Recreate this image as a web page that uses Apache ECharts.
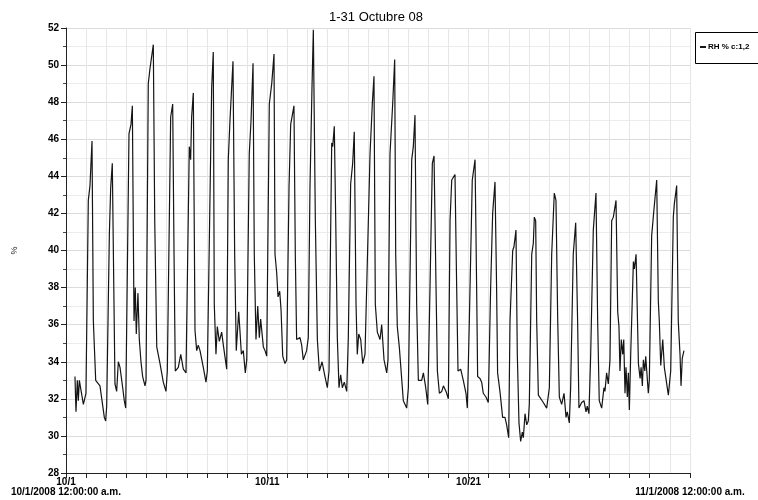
<!DOCTYPE html>
<html>
<head>
<meta charset="utf-8">
<script src="https://cdn.jsdelivr.net/npm/echarts@6/dist/echarts.min.js"></script>
<style>
  html, body { margin: 0; padding: 0; background: #fff; }
  #chart { width: 758px; height: 500px; }
</style>
</head>
<body>
<div id="chart"></div>
<script>
// Relative humidity logger readings, October 2008.
// hours: time since 10/1/2008 00:00; rh: reading in %.
const hours = [
  10.7, 11.9, 13.5, 14.7, 15.9, 17.9, 20.7, 22.3, 23.8, 26.6,
  28.6, 31.0, 32.6, 35.4, 40.5, 42.5, 45.7, 47.3, 48.5, 51.7,
  53.3, 55.2, 58.4, 60.4, 62.4, 64.4, 67.6, 69.5, 71.2, 75.1,
  77.5, 79.1, 81.1, 82.6, 83.8, 85.8, 87.4, 89.4, 91.4, 94.2,
  95.4, 98.1, 100.1, 104.1, 105.8, 108.2, 112.1, 116.0, 119.2, 120.8,
  124.8, 127.2, 128.8, 130.3, 133.9, 136.8, 139.9, 143.1, 147.0, 148.6,
  149.8, 151.8, 153.8, 155.8, 157.7, 159.8, 163.7, 166.9, 168.5, 173.7,
  175.6, 176.8, 178.8, 180.4, 182.8, 185.6, 187.6, 191.6, 193.5, 195.5,
  199.1, 201.1, 203.0, 205.9, 207.5, 209.1, 211.4, 213.8, 215.5, 218.5,
  220.6, 223.0, 224.5, 226.5, 228.6, 230.5, 232.1, 235.3, 237.3, 239.3,
  242.4, 245.3, 248.0, 249.2, 251.2, 252.8, 254.8, 256.4, 258.4, 261.1,
  263.1, 265.9, 267.9, 271.8, 273.4, 275.0, 279.0, 281.0, 282.9, 286.9,
  288.9, 290.9, 293.3, 294.9, 297.3, 299.7, 302.1, 305.3, 308.8, 311.6,
  313.6, 316.8, 318.0, 319.9, 321.6, 323.5, 325.5, 327.5, 329.5, 331.8,
  334.7, 336.6, 339.4, 341.8, 343.7, 345.8, 347.3, 349.0, 351.4, 353.8,
  356.5, 358.5, 362.5, 365.2, 367.2, 368.8, 371.2, 374.4, 376.4, 379.2,
  382.4, 383.9, 386.3, 389.5, 391.9, 393.1, 395.0, 397.4, 399.4, 402.2,
  406.2, 408.2, 412.2, 414.1, 416.1, 418.1, 420.1, 424.1, 426.1, 428.9,
  431.3, 434.0, 436.8, 438.8, 441.2, 442.8, 445.2, 448.0, 450.0, 453.1,
  455.9, 457.9, 459.9, 463.8, 465.8, 467.4, 470.6, 473.7, 476.9, 478.5,
  480.9, 484.4, 487.7, 489.6, 490.8, 493.6, 495.6, 497.5, 500.7, 503.5,
  506.3, 508.7, 511.5, 513.4, 514.6, 517.4, 520.6, 523.4, 525.4, 527.8,
  529.4, 532.6, 534.1, 536.5, 538.1, 540.1, 542.1, 544.1, 545.3, 547.3,
  549.3, 551.2, 552.4, 555.3, 557.2, 558.4, 560.0, 561.2, 563.2, 565.2,
  569.1, 573.1, 576.3, 579.1, 582.2, 584.2, 586.3, 588.2, 591.0, 593.8,
  596.2, 597.7, 600.1, 601.7, 604.8, 607.7, 610.0, 611.6, 614.8, 617.6,
  620.0, 621.5, 623.5, 625.6, 628.7, 631.9, 633.9, 635.8, 638.7, 641.4,
  642.6, 644.6, 646.6, 648.6, 650.6, 652.6, 655.8, 657.8, 659.3, 660.5,
  662.1, 663.8, 665.0, 666.5, 667.7, 669.3, 670.5, 671.7, 673.3, 676.5,
  677.7, 679.7, 682.5, 684.5, 685.7, 687.2, 688.4, 690.1, 691.2, 694.3,
  695.5, 698.3, 701.4, 704.3, 706.2, 707.4, 709.1, 711.5, 713.4, 715.0,
  718.2, 720.2, 721.0, 724.1, 725.3, 728.1, 730.0, 732.1, 733.3, 734.8,
  736.8
];
const rh = [
  33.2, 31.3, 33.0, 31.9, 33.0, 33.0, 31.7, 31.6, 32.3, 42.7,
  43.5, 45.9, 36.2, 33.0, 32.7, 32.6, 31.0, 30.8, 31.6, 40.9,
  43.4, 44.7, 32.8, 32.4, 34.0, 33.7, 32.6, 31.9, 31.5, 46.3,
  46.8, 47.8, 36.2, 38.0, 35.5, 37.7, 35.2, 34.0, 33.2, 32.7,
  33.0, 49.0, 49.8, 51.1, 41.6, 34.8, 33.9, 32.9, 32.4, 33.5,
  47.2, 47.9, 39.8, 33.5, 33.7, 34.4, 33.6, 33.4, 45.6, 44.9,
  47.2, 48.5, 35.7, 34.6, 34.9, 34.6, 33.7, 32.9, 33.5, 48.8,
  50.7, 37.1, 34.4, 35.9, 35.1, 35.6, 34.9, 33.6, 44.9, 47.0,
  50.2, 39.8, 34.6, 36.7, 35.6, 34.4, 34.6, 33.4, 34.1, 45.2,
  47.0, 50.1, 39.8, 35.2, 37.0, 35.3, 36.3, 34.8, 34.6, 34.3,
  47.9, 49.0, 50.6, 39.8, 38.8, 37.5, 37.8, 36.8, 34.3, 33.9,
  34.1, 43.4, 46.8, 47.8, 39.8, 35.2, 35.3, 34.9, 34.1, 34.6,
  35.3, 43.4, 48.8, 51.9, 41.6, 35.2, 33.5, 34.0, 33.2, 32.6,
  33.5, 45.8, 45.6, 46.7, 41.6, 35.3, 32.6, 33.3, 32.6, 32.9,
  32.4, 35.3, 43.6, 44.7, 46.4, 37.1, 34.4, 35.5, 35.2, 33.9,
  34.4, 34.3, 45.2, 47.9, 49.4, 37.1, 35.6, 35.2, 36.0, 34.1,
  33.4, 34.1, 45.2, 47.9, 50.3, 39.8, 35.9, 34.8, 34.9, 31.9,
  31.5, 32.6, 44.9, 45.6, 47.3, 37.1, 33.0, 33.0, 33.4, 32.6,
  31.7, 38.0, 44.7, 45.1, 38.0, 33.5, 32.3, 32.4, 32.7, 32.4,
  32.0, 41.6, 43.8, 44.1, 38.0, 33.5, 33.6, 33.0, 32.3, 31.5,
  36.2, 43.8, 44.9, 38.0, 33.2, 33.1, 32.9, 32.3, 32.1, 31.8,
  38.0, 42.0, 43.7, 38.0, 33.4, 32.4, 31.0, 31.0, 30.6, 29.9,
  36.2, 40.0, 40.2, 41.1, 34.4, 30.7, 29.7, 30.2, 29.9, 31.2,
  30.6, 30.8, 31.7, 39.8, 40.4, 41.8, 41.6, 36.2, 32.2, 32.1,
  31.8, 31.5, 32.6, 39.8, 43.1, 42.7, 36.2, 32.1, 31.7, 32.3,
  31.0, 31.3, 30.7, 32.6, 39.8, 41.5, 36.2, 31.5, 31.8, 31.9,
  31.3, 31.6, 31.2, 34.4, 41.1, 43.1, 36.2, 31.9, 31.5, 32.6,
  32.4, 33.4, 32.8, 34.1, 41.6, 41.8, 42.7, 36.7, 35.9, 33.5,
  35.2, 34.4, 35.2, 32.3, 33.7, 32.1, 33.4, 31.4, 34.4, 39.4,
  39.0, 39.8, 33.9, 33.1, 33.7, 32.7, 34.1, 33.5, 34.3, 32.3,
  33.0, 40.8, 42.4, 43.8, 37.3, 36.2, 33.8, 35.2, 33.7, 33.8,
  32.2, 32.2, 33.5, 41.8, 42.5, 43.5, 36.2, 34.4, 32.7, 34.2,
  34.6
];
// Day labels shown on the time axis (hour offset -> text)
const dayLabels = {
  0: '10/1\n10/1/2008 12:00:00 a.m.',
  240: '10/11',
  480: '10/21',
  720: '10/31',
  744: '\n11/1/2008 12:00:00 a.m.'
};

const seriesData = hours.map((h, i) => [h, rh[i]]);
const FONT = '"Liberation Sans", Arial, sans-serif';

const chart = echarts.init(document.getElementById('chart'), null, { renderer: 'canvas' });
chart.setOption({
  animation: false,
  backgroundColor: '#ffffff',
  title: {
    text: '1-31 Octubre 08',
    left: 329,
    top: 11,
    padding: 0,
    textStyle: { fontFamily: FONT, fontSize: 13, fontWeight: 'normal', color: '#000' }
  },
  // frame around the legend, running past the right edge of the page
  graphic: [{
    type: 'rect',
    shape: { x: 695.5, y: 32.5, width: 90, height: 31 },
    style: { fill: 'none', stroke: '#000', lineWidth: 1 },
    z: 10
  }],
  legend: {
    left: 696,
    top: 33,
    orient: 'vertical',
    padding: [10, 4, 10, 4],
    icon: 'rect',
    itemWidth: 6,
    itemHeight: 2,
    itemGap: 4,
    textStyle: { fontFamily: FONT, fontSize: 8, fontWeight: 'bold', color: '#000', padding: [0, 0, 0, -3] },
    data: ['RH % c:1,2']
  },
  grid: { left: 66, right: 68, top: 28, bottom: 27 },
  xAxis: {
    type: 'value',
    min: 0,
    max: 744,
    interval: 24,
    axisLine: { lineStyle: { color: '#222', width: 1 } },
    axisTick: { show: true, inside: false, length: 5, lineStyle: { color: '#222' } },
    axisLabel: {
      showMinLabel: true,
      showMaxLabel: true,
      margin: 4,
      fontFamily: FONT,
      fontSize: 10,
      fontWeight: 'bold',
      color: '#000',
      lineHeight: 10,
      formatter: v => dayLabels[v] || ''
    },
    splitLine: { show: true, lineStyle: { color: '#e6e6e6', width: 1 } }
  },
  yAxis: {
    type: 'value',
    min: 28,
    max: 52,
    interval: 2,
    name: '%',
    nameLocation: 'middle',
    nameRotate: 90,
    nameGap: 47,
    nameTextStyle: { fontFamily: FONT, fontSize: 9, color: '#222' },
    axisLine: { show: true, lineStyle: { color: '#222', width: 1 } },
    axisTick: { show: true, length: 5, lineStyle: { color: '#222' } },
    minorTick: { show: true, splitNumber: 2, length: 3, lineStyle: { color: '#444' } },
    axisLabel: {
      margin: 7,
      fontFamily: FONT,
      fontSize: 10,
      fontWeight: 'bold',
      color: '#000'
    },
    splitLine: { show: true, lineStyle: { color: '#dcdcdc', width: 1 } },
    minorSplitLine: { show: true, lineStyle: { color: '#ececec', width: 1 } }
  },
  series: [{
    name: 'RH % c:1,2',
    type: 'line',
    data: seriesData,
    showSymbol: false,
    symbol: 'none',
    lineStyle: { color: '#151515', width: 1.2 },
    itemStyle: { color: '#151515' }
  }]
});
</script>
</body>
</html>
